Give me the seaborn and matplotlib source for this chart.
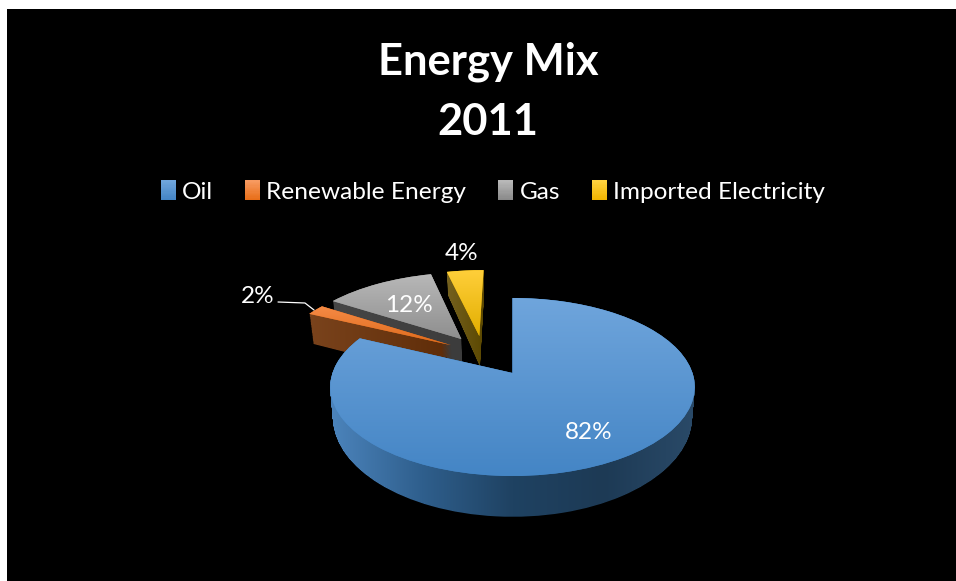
import numpy as np
import matplotlib
matplotlib.use("Agg")
import matplotlib.pyplot as plt
import seaborn as sns
from matplotlib.colors import LinearSegmentedColormap as LSC
from matplotlib.legend_handler import HandlerBase
from matplotlib.patches import Patch, Rectangle
from matplotlib.path import Path
from matplotlib.transforms import Transform

# ---- data ----
categories = ["Oil", "Renewable Energy", "Gas", "Imported Electricity"]
shares = [82, 2, 12, 4]
title_lines = ["Energy Mix", "2011"]

# ---- styling ----
top_stops = [["#6FA5DC", "#4485C5"], ["#F58A45", "#DE6B1C"],
             ["#B8B8B8", "#8E8E8E"], ["#FFCF3A", "#E2AE00"]]
wall_stops = [["#4C84BC", "#2F5F8D", "#1F4262", "#1D3A55", "#2A4A68"],
              ["#7A431C", "#5E2C08"], ["#464646", "#3C3C3C"], ["#75611F", "#5A4700"]]
legend_stops = [["#6FA5DC", "#4485C5"], ["#F79A60", "#E86E18"],
                ["#B8B8B8", "#8A8A8A"], ["#FFD23F", "#F0B400"]]
explode = [0, 0.41, 0.515, 0.46]
nudge = [(0, 0), (0, 0.14), (0, 0), (-0.14, 0)]
depth_scale = [1, 1.3, 0.92, 1.2]
draw_rank = [5, 4, 2, 3]
label_xy = [(589, 433), (258, 297), (409, 306), (462, 254)]

W, H = 956, 581
LEFT, TOP = 7, 9
CX, CY, RX, RY, K, DEPTH = 512.5, 373, 180, 86.8, 0.157, 29


class Persp(Transform):
    """Projects the unit pie plane into a tilted perspective view (pixels)."""
    input_dims = output_dims = 2

    def __init__(self, z=0.0):
        super().__init__()
        self.z = z

    def transform_non_affine(self, values):
        u, v = np.asarray(values, float).T
        w = 1 + K * v
        x = CX + RX * u / w * (1 - 0.015 * self.z)
        y = CY - RY * v / w + self.z * DEPTH / w ** 2
        return np.column_stack([x, y])


sns.set_theme(style="dark")
plt.rcParams["font.family"] = ["Lato", "DejaVu Sans"]
fig = plt.figure(figsize=(W / 100, H / 100), dpi=100, facecolor="white")
ax = fig.add_axes([LEFT / W, 0, (W - LEFT) / W, (H - TOP) / H])

wedges, _ = ax.pie(shares, explode=explode, startangle=90, counterclock=False,
                   radius=1, wedgeprops=dict(linewidth=0))
ax.set_aspect("auto")
ax.set_frame_on(True)
ax.set_facecolor("black")
for s in ax.spines.values():
    s.set_visible(False)


def shade(path, stops, horizontal, zorder):
    e = path.get_extents()
    ramp = np.linspace(0, 1, 256)
    grad = ramp[None, :] if horizontal else ramp[:, None]
    im = ax.imshow(grad, extent=(e.x0, e.x1, e.y1, e.y0), origin="upper", aspect="auto",
                   cmap=LSC.from_list("g", stops), interpolation="bilinear", zorder=zorder)
    im.set_clip_path(path, transform=ax.transData)


for i, w in enumerate(wedges):
    cx, cy = w.center
    w.set_center((cx + nudge[i][0], cy + nudge[i][1]))
    w.set_facecolor(top_stops[i][1])
    w.set_transform(Persp(0) + ax.transData)
    w.set_zorder(draw_rank[i] + 0.1)
    plane = w.get_path()
    wall = Path.make_compound_path(*[Persp(z).transform_path(plane)
                                     for z in np.linspace(0, depth_scale[i], 42)])
    shade(wall, wall_stops[i], True, draw_rank[i])
    shade(Persp(0).transform_path(plane), top_stops[i], False, draw_rank[i] + 0.2)

ax.set_xlim(LEFT, W)
ax.set_ylim(H, TOP)
ax.set_xticks([])
ax.set_yticks([])

for share, (x, y) in zip(shares, label_xy):
    ax.text(x, y, f"{share}%", color="white", fontsize=17.5, ha="center", va="center", zorder=10)
ax.plot([278, 305, 314], [302, 303, 310], color="white", lw=0.9, zorder=9)

fig.text(488 / W, 1 - 62 / H, title_lines[0], color="white", fontsize=31.3,
         fontweight="bold", ha="center", va="center")
fig.text(488 / W, 1 - 122 / H, title_lines[1], color="white", fontsize=31.3,
         fontweight="bold", ha="center", va="center")


class GradientHandle(HandlerBase):
    def create_artists(self, legend, orig, xd, yd, width, height, fontsize, trans):
        cmap = LSC.from_list("h", orig.stops)
        n = 16
        return [Rectangle((-xd, -yd + height * (n - 1 - j) / n), width, height / n + 0.3,
                          facecolor=cmap(j / (n - 1)), edgecolor="none", transform=trans)
                for j in range(n)]


handles = []
for stops in legend_stops:
    h = Patch()
    h.stops = stops
    handles.append(h)
leg = ax.legend(handles, categories, ncol=4, frameon=False, loc="center",
                bbox_to_anchor=(493, 192), bbox_transform=ax.transData,
                fontsize=17.6, labelcolor="white", handlelength=0.62, handleheight=0.85,
                handletextpad=0.25, columnspacing=1.3,
                handler_map={Patch: GradientHandle()})
leg.set_zorder(10)

fig.savefig("out.png", dpi=100, facecolor="white")
